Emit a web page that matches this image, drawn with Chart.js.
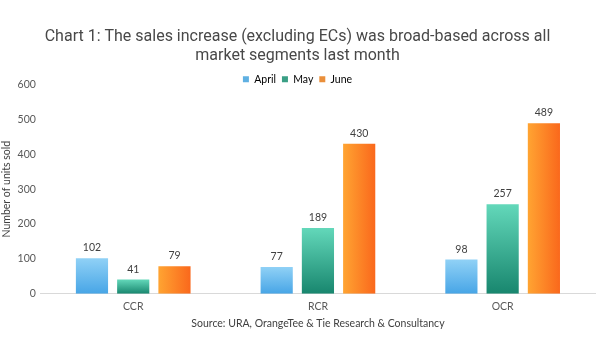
<!DOCTYPE html>
<html>
<head>
<meta charset="utf-8">
<script src="https://cdn.jsdelivr.net/npm/chart.js@4"></script>
<style>
  html, body { margin: 0; padding: 0; background: #fff; }
  #wrap { width: 600px; height: 360px; }
</style>
</head>
<body>
<div id="wrap"><canvas id="chart1"></canvas></div>
<script>
// data
const segments = ['CCR', 'RCR', 'OCR'];
const aprilSales = [102, 77, 98];
const maySales = [41, 189, 257];
const juneSales = [79, 430, 489];
const yTicks = [0, 100, 200, 300, 400, 500, 600];

const CAT_PCT = 0.67;
const BAR_PCT = 0.78;
const LEGEND_TRIM = 10;

// vertical gradient for one bar (top colour -> bottom colour)
function vGrad(top, bottom, fallback) {
  return ctx => {
    const chart = ctx.chart;
    if (!chart.chartArea || !chart.scales.y || ctx.raw == null) return fallback;
    const y = chart.scales.y;
    const g = chart.ctx.createLinearGradient(0, y.getPixelForValue(ctx.raw), 0, y.getPixelForValue(0));
    g.addColorStop(0, top);
    g.addColorStop(1, bottom);
    return g;
  };
}

// horizontal gradient for June bars (left -> right)
function hGrad(left, right, fallback, slot) {
  return ctx => {
    const chart = ctx.chart;
    if (!chart.chartArea || !chart.scales.x) return fallback;
    const x = chart.scales.x;
    const slotW = chart.chartArea.width / segments.length * CAT_PCT / 3;
    const cx = x.getPixelForValue(ctx.dataIndex) + (slot - 1) * slotW;
    const bw = slotW * BAR_PCT;
    const g = chart.ctx.createLinearGradient(cx - bw / 2, 0, cx + bw / 2, 0);
    g.addColorStop(0, left);
    g.addColorStop(1, right);
    return g;
  };
}

// value labels above each bar
const valueLabels = {
  id: 'valueLabels',
  afterDatasetsDraw(chart) {
    const c = chart.ctx;
    c.save();
    c.font = '10.5px Lato, sans-serif';
    c.fillStyle = '#404040';
    c.textAlign = 'center';
    c.textBaseline = 'bottom';
    chart.data.datasets.forEach((ds, i) => {
      chart.getDatasetMeta(i).data.forEach((bar, j) => {
        c.fillText(ds.data[j], bar.x, bar.y - 5);
      });
    });
    c.restore();
  }
};

// legend sits almost level with the 600 tick, so trim its box for layout
// and give the height back afterwards so the text is not clipped
const tightLegend = {
  id: 'tightLegend',
  beforeLayout(chart) {
    const lg = chart.legend;
    if (lg && !lg._tight) {
      const fit = lg.fit.bind(lg);
      lg.fit = function () { fit(); this.height = Math.max(0, this.height - LEGEND_TRIM); };
      lg._tight = true;
    }
  },
  afterLayout(chart) {
    const lg = chart.legend;
    if (lg) {
      lg.bottom += LEGEND_TRIM;
      lg.height += LEGEND_TRIM;
    }
  }
};

new Chart(document.getElementById('chart1'), {
  type: 'bar',
  data: {
    labels: segments,
    datasets: [
      { label: 'April', data: aprilSales, backgroundColor: vGrad('#90d1f6', '#47a5e6', '#6dbcee'), borderWidth: 0 },
      { label: 'May', data: maySales, backgroundColor: vGrad('#63d8ba', '#18866e', '#3aae92'), borderWidth: 0 },
      { label: 'June', data: juneSales, backgroundColor: hGrad('#ffa432', '#fa681c', '#fd862a', 2), borderWidth: 0 }
    ]
  },
  options: {
    responsive: true,
    maintainAspectRatio: false,
    animation: false,
    categoryPercentage: CAT_PCT,
    barPercentage: BAR_PCT,
    layout: { padding: { left: 0, right: 5, top: 27, bottom: 30 } },
    plugins: {
      title: {
        display: true,
        text: ['Chart 1: The sales increase (excluding ECs) was broad-based across all', 'market segments last month'],
        color: '#484848',
        font: { family: 'Roboto', size: 16, weight: 'normal', lineHeight: 1.22 },
        padding: { top: 0, bottom: 2 }
      },
      legend: {
        position: 'top',
        labels: {
          boxWidth: 6,
          boxHeight: 6,
          padding: 6,
          color: '#595959',
          font: { family: 'Lato', size: 10.5 },
          generateLabels(chart) {
            const cols = ['#5fb0e2', '#3a9f85', '#ea8f3a'];
            return chart.data.datasets.map((ds, i) => ({
              text: ds.label,
              fillStyle: cols[i],
              strokeStyle: cols[i],
              lineWidth: 0,
              datasetIndex: i,
              hidden: false
            }));
          }
        }
      },
      tooltip: { enabled: false }
    },
    scales: {
      x: {
        grid: { display: false, drawTicks: false },
        border: { color: '#d9d9d9', width: 1 },
        ticks: { color: '#595959', font: { family: 'Lato', size: 10.5 }, padding: 7 },
        title: {
          display: true,
          text: 'Source: URA, OrangeTee & Tie Research & Consultancy',
          color: '#404040',
          font: { family: 'Lato', size: 10.5 },
          padding: { top: -3, bottom: 0 }
        }
      },
      y: {
        min: 0,
        max: 600,
        afterBuildTicks(axis) {
          axis.ticks = yTicks.map(v => ({ value: v }));
        },
        grid: { display: false, drawTicks: false },
        border: { display: false },
        ticks: { color: '#595959', font: { family: 'Lato', size: 10.5 }, padding: 5 },
        title: {
          display: true,
          text: 'Number of units sold',
          color: '#404040',
          font: { family: 'Lato', size: 10.5 },
          padding: { top: 0, bottom: 0 }
        }
      }
    }
  },
  plugins: [valueLabels, tightLegend]
});
</script>
</body>
</html>
